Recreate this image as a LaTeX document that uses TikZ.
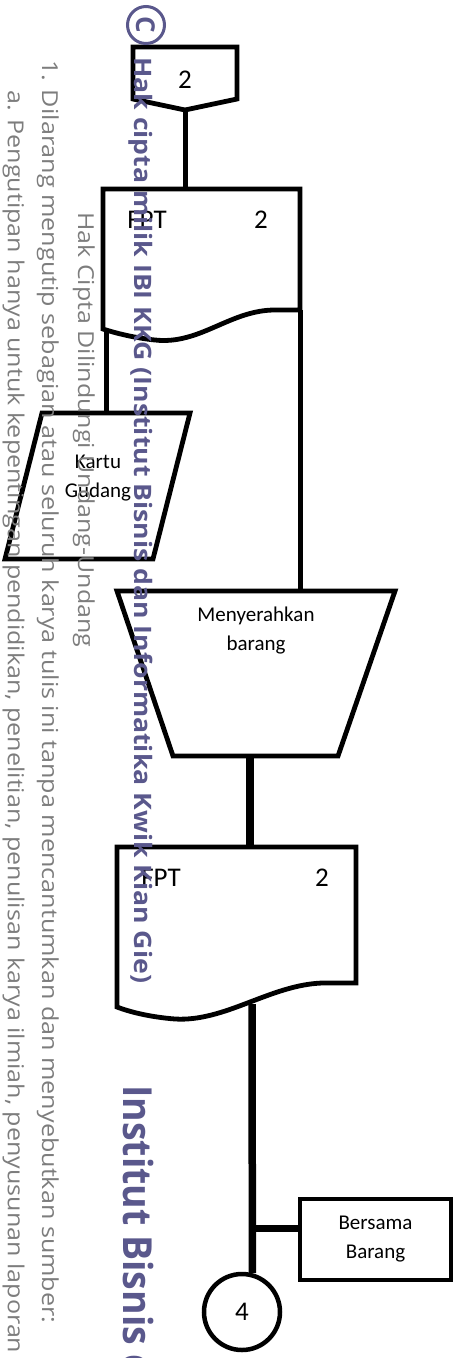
\documentclass[tikz,border=0pt]{standalone}
\usepackage{fontspec}
\usepackage{graphicx}
\setmainfont{Carlito}
\newfontfamily\wmfont{Open Sans}
\definecolor{wmgray}{RGB}{125,125,125}
\definecolor{wmpurple}{RGB}{90,88,140}
\newlength\ibwidth
\begin{document}
\begin{tikzpicture}[x=1pt,y=-1pt,
  outline/.style={line width=4.8pt, line join=miter},
  link/.style={line width=5pt},
  heavylink/.style={line width=7.5pt},
  biglabel/.style={inner sep=0pt, font=\fontsize{27}{27}\selectfont},
  boxtext/.style={inner sep=0pt, align=center, font=\fontsize{21}{29}\selectfont},
  notice/.style={inner sep=0pt, rotate=-90, anchor=base west, text=wmgray,
    font=\wmfont\fontsize{22}{22}\selectfont},
  brand/.style={inner sep=0pt, rotate=-90, anchor=base west, text=wmpurple,
    font=\wmfont\bfseries\fontsize{24}{24}\selectfont}]
\useasboundingbox (0,0) rectangle (453,1358);
\clip (0,0) rectangle (453,1358);

% off-page connector "2"
\draw[outline] (133,47) -- (237,47) -- (237,99) -- (185,110) -- (133,99) -- cycle;
\coordinate (opTip) at (185,110);
\node[biglabel] (opText) at (185,80) {2};

% document FPT 2 (upper)
\draw[outline] (103,189) -- (300,189) -- (300,310) -- (275,310)
  .. controls (230,310) and (200,345) .. (155,340)
  .. controls (135,338) and (115,333) .. (103,329) -- cycle;
\coordinate (docAtop) at (185,189);
\coordinate (docAleft) at (106,330);
\coordinate (docAright) at (300,310);
\node[biglabel] (docAname) at (147,220) {FPT};
\node[biglabel] (docAnum) at (261,220) {2};

% kartu gudang (parallelogram)
\draw[outline] (42,413) -- (190,413) -- (153,559) -- (5,559) -- cycle;
\coordinate (cardTop) at (106,413);
\node[boxtext] (cardText) at (98,478) {Kartu\\Gudang};

% manual operation: menyerahkan barang
\draw[outline] (117,591) -- (395,591) -- (338,756) -- (173,756) -- cycle;
\coordinate (opTop) at (300,591);
\coordinate (opBottom) at (250,756);
\node[boxtext] (opLabel) at (256,631) {Menyerahkan\\barang};

% document FPT 2 (lower)
\draw[outline] (117,847) -- (356,847) -- (356,983) -- (322,983)
  .. controls (270,985) and (225,1022) .. (175,1019)
  .. controls (150,1017) and (130,1012) .. (117,1007) -- cycle;
\coordinate (docBtop) at (250,847);
\coordinate (docBbottom) at (252,1004);
\node[biglabel] (docBname) at (161,878) {FPT};
\node[biglabel] (docBnum) at (322,878) {2};

% note box
\node[draw, line width=4.8pt, minimum width=151pt, minimum height=81pt,
  inner sep=0pt, align=center, font=\fontsize{21}{29}\selectfont]
  (note) at (375.5,1239.5) {Bersama\\Barang};

% on-page connector 4
\node[circle, draw, line width=4.5pt, minimum size=76pt, inner sep=0pt,
  font=\fontsize{27}{27}\selectfont] (conn) at (242,1312) {4};

% flow lines
\draw[link] (opTip) -- (docAtop);
\draw[link] (docAleft) -- (cardTop);
\draw[link] (docAright) -- (opTop);
\draw[heavylink] (opBottom) -- (docBtop);
\draw[heavylink] (docBbottom) -- (conn.75);
\coordinate (branch) at (252,1228);
\draw[line width=7pt] (branch) -- (note.west |- branch);

% copyright notice along the left margin
\node[notice] (nHak) at (78,212) {\resizebox{435pt}{\height}{Hak Cipta Dilindungi Undang-Undang}};
\node[notice] (nOne) at (42,60) {\resizebox{1263pt}{\height}{1. Dilarang mengutip sebagian atau seluruh karya tulis ini tanpa mencantumkan dan menyebutkan sumber:}};
\node[notice] (nA) at (8,90) {\resizebox{1263pt}{\height}{a. Pengutipan hanya untuk kepentingan pendidikan, penelitian, penulisan karya ilmiah, penyusunan laporan}};

% ownership mark
\node[circle, draw=wmpurple, line width=3pt, minimum size=37pt, inner sep=0pt,
  text=wmpurple, rotate=-90, font=\wmfont\bfseries\fontsize{26}{26}\selectfont]
  (copy) at (146,25) {C};
\node[brand] (owner) at (134,57) {\resizebox{926pt}{\height}{Hak cipta milik IBI KKG (Institut Bisnis dan Informatika Kwik Kian Gie)}};
\node[brand, font=\wmfont\bfseries\fontsize{40}{40}\selectfont] (inst) at (123,1085)
  {\settowidth{\ibwidth}{Institut Bisnis}\pgfmathsetmacro\ibscale{260/\ibwidth}%
   \scalebox{\ibscale}[1]{Institut Bisnis dan Informatika Kwik Kian Gie}};
\end{tikzpicture}
\end{document}
